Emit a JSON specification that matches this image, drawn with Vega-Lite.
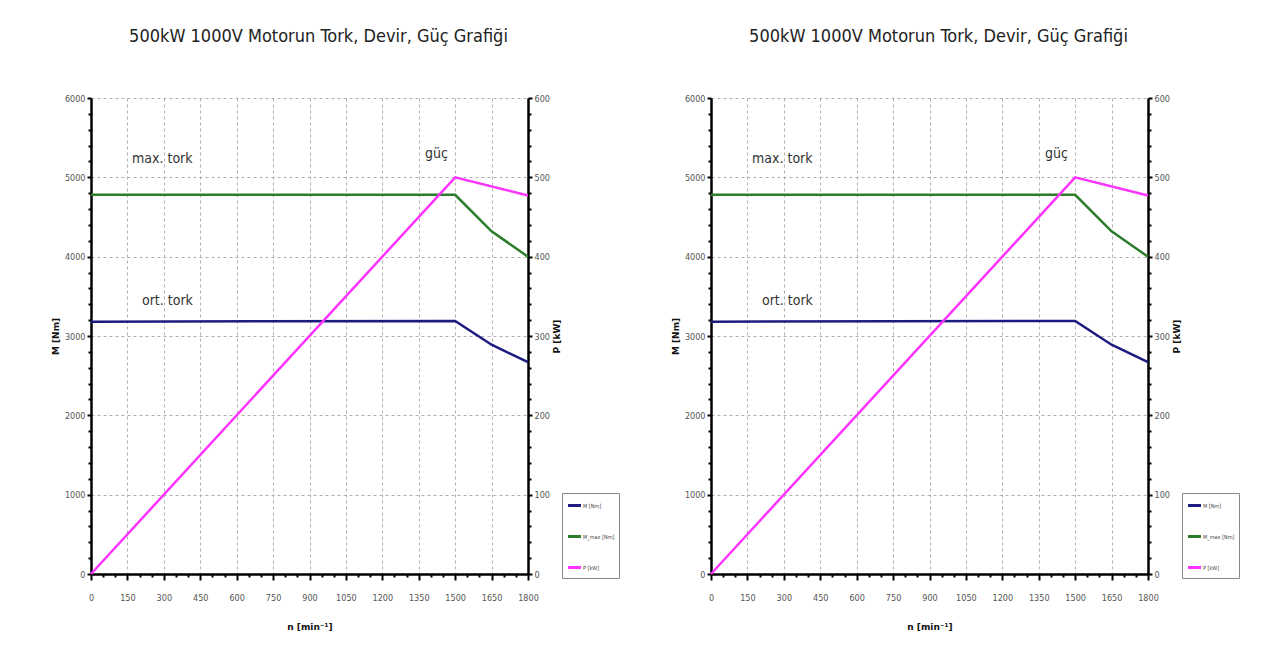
{
  "$schema": "https://vega.github.io/schema/vega-lite/v6.json",
  "background": "white",
  "padding": {"left": 51, "top": 28, "right": 5, "bottom": 5},
  "spacing": 51,
  "datasets": {
    "curves": [
      {"n": 0, "series": "M [Nm]", "value": 3180},
      {"n": 1500, "series": "M [Nm]", "value": 3190},
      {"n": 1650, "series": "M [Nm]", "value": 2890},
      {"n": 1800, "series": "M [Nm]", "value": 2670},
      {"n": 0, "series": "M_max [Nm]", "value": 4780},
      {"n": 1500, "series": "M_max [Nm]", "value": 4780},
      {"n": 1650, "series": "M_max [Nm]", "value": 4320},
      {"n": 1800, "series": "M_max [Nm]", "value": 4000},
      {"n": 0, "series": "P [kW]", "value": 0},
      {"n": 1500, "series": "P [kW]", "value": 500},
      {"n": 1800, "series": "P [kW]", "value": 477}
    ],
    "notes": [
      {"n": 169, "M": 5230, "label": "max. tork"},
      {"n": 210, "M": 3440, "label": "ort. tork"},
      {"n": 1376, "M": 5300, "label": "güç"}
    ]
  },
  "config": {
    "view": {"stroke": null},
    "font": "DejaVu Sans Condensed",
    "axis": {
      "labelFont": "DejaVu Sans Condensed",
      "labelFontSize": 9,
      "labelColor": "#555",
      "titleFont": "DejaVu Sans",
      "titleFontSize": 9,
      "titleFontWeight": "bold",
      "titleColor": "#111",
      "domainColor": "#000",
      "domainWidth": 2.5,
      "tickColor": "#000",
      "tickWidth": 2,
      "gridColor": "#b0b0b0",
      "gridDash": [3, 3],
      "gridWidth": 1
    },
    "legend": {
      "orient": "none", "legendX": 471, "legendY": 395,
      "strokeColor": "#888", "padding": 4, "symbolType": "stroke", "symbolStrokeWidth": 3, "symbolSize": 170,
      "labelFontSize": 5.5, "labelFont": "DejaVu Sans Condensed", "labelColor": "#444", "rowPadding": 16, "labelOffset": 0
    },
    "title": {"font": "DejaVu Sans Condensed", "fontSize": 18, "fontWeight": "normal", "color": "#222", "offset": 48}
  },
  "hconcat": [
    {
      "width": 437,
      "height": 476,
      "title": {"text": "500kW 1000V Motorun Tork, Devir, Güç Grafiği", "dx": 9},
      "data": {"name": "curves"},
      "encoding": {
        "x": {"field": "n", "type": "quantitative", "scale": {"domain": [0, 1800], "nice": false},
          "axis": {"title": "n [min⁻¹]", "format": "d", "values": [0,50,100,150,200,250,300,350,400,450,500,550,600,650,700,750,800,850,900,950,1000,1050,1100,1150,1200,1250,1300,1350,1400,1450,1500,1550,1600,1650,1700,1750,1800],
            "labelExpr": "datum.value % 150 === 0 ? datum.label : ''",
            "gridOpacity": {"condition": {"test": "datum.value % 150 === 0", "value": 1}, "value": 0},
            "tickSize": {"condition": {"test": "datum.value % 150 === 0", "value": 6}, "value": 3},
            "labelPadding": 13, "titlePadding": 20, "labelFlush": false, "labelOverlap": false}}
      },
      "layer": [
        {
          "transform": [{"filter": "datum.series !== 'P [kW]'"}],
          "mark": {"type": "line", "strokeWidth": 2.5},
          "encoding": {
            "y": {"field": "value", "type": "quantitative", "scale": {"domain": [0, 6000], "nice": false},
              "axis": {"title": "M [Nm]", "orient": "left", "values": [0,200,400,600,800,1000,1200,1400,1600,1800,2000,2200,2400,2600,2800,3000,3200,3400,3600,3800,4000,4200,4400,4600,4800,5000,5200,5400,5600,5800,6000],
                "labelExpr": "datum.value % 1000 === 0 ? datum.label : ''",
                "format": "d",
                "gridOpacity": {"condition": {"test": "datum.value % 1000 === 0", "value": 1}, "value": 0},
                "tickSize": {"condition": {"test": "datum.value % 1000 === 0", "value": 4}, "value": 3},
                "labelPadding": 2, "titlePadding": 4, "labelOverlap": false}},
            "color": {"field": "series", "type": "nominal",
              "scale": {"domain": ["M [Nm]", "M_max [Nm]", "P [kW]"], "range": ["#1c1c80", "#2b7d2b", "#ff33ff"]},
              "legend": {"title": null}}
          }
        },
        {
          "transform": [{"filter": "datum.series === 'P [kW]'"}],
          "mark": {"type": "line", "strokeWidth": 2.5},
          "encoding": {
            "y": {"field": "value", "type": "quantitative", "scale": {"domain": [0, 600], "nice": false},
              "axis": {"title": "P [kW]", "orient": "right", "values": [0,20,40,60,80,100,120,140,160,180,200,220,240,260,280,300,320,340,360,380,400,420,440,460,480,500,520,540,560,580,600],
                "labelExpr": "datum.value % 100 === 0 ? datum.label : ''",
                "grid": false,
                "tickSize": {"condition": {"test": "datum.value % 100 === 0", "value": 4}, "value": 3},
                "labelPadding": 2, "titlePadding": 12, "titleAngle": -90, "labelOverlap": false}},
            "color": {"field": "series", "type": "nominal"}
          }
        },
        {
          "data": {"name": "notes"},
          "mark": {"type": "text", "align": "left", "baseline": "middle", "fontSize": 14, "font": "DejaVu Sans Condensed", "color": "#333"},
          "encoding": {
            "y": {"field": "M", "type": "quantitative", "scale": {"domain": [0, 6000], "nice": false}, "axis": null},
            "text": {"field": "label"}
          }
        }
      ],
      "resolve": {"scale": {"y": "independent"}, "axis": {"y": "independent"}}
    },
    {
      "width": 437,
      "height": 476,
      "title": {"text": "500kW 1000V Motorun Tork, Devir, Güç Grafiği", "dx": 9},
      "data": {"name": "curves"},
      "encoding": {
        "x": {"field": "n", "type": "quantitative", "scale": {"domain": [0, 1800], "nice": false},
          "axis": {"title": "n [min⁻¹]", "format": "d", "values": [0,50,100,150,200,250,300,350,400,450,500,550,600,650,700,750,800,850,900,950,1000,1050,1100,1150,1200,1250,1300,1350,1400,1450,1500,1550,1600,1650,1700,1750,1800],
            "labelExpr": "datum.value % 150 === 0 ? datum.label : ''",
            "gridOpacity": {"condition": {"test": "datum.value % 150 === 0", "value": 1}, "value": 0},
            "tickSize": {"condition": {"test": "datum.value % 150 === 0", "value": 6}, "value": 3},
            "labelPadding": 13, "titlePadding": 20, "labelFlush": false, "labelOverlap": false}}
      },
      "layer": [
        {
          "transform": [{"filter": "datum.series !== 'P [kW]'"}],
          "mark": {"type": "line", "strokeWidth": 2.5},
          "encoding": {
            "y": {"field": "value", "type": "quantitative", "scale": {"domain": [0, 6000], "nice": false},
              "axis": {"title": "M [Nm]", "orient": "left", "values": [0,200,400,600,800,1000,1200,1400,1600,1800,2000,2200,2400,2600,2800,3000,3200,3400,3600,3800,4000,4200,4400,4600,4800,5000,5200,5400,5600,5800,6000],
                "labelExpr": "datum.value % 1000 === 0 ? datum.label : ''",
                "format": "d",
                "gridOpacity": {"condition": {"test": "datum.value % 1000 === 0", "value": 1}, "value": 0},
                "tickSize": {"condition": {"test": "datum.value % 1000 === 0", "value": 4}, "value": 3},
                "labelPadding": 2, "titlePadding": 4, "labelOverlap": false}},
            "color": {"field": "series", "type": "nominal",
              "scale": {"domain": ["M [Nm]", "M_max [Nm]", "P [kW]"], "range": ["#1c1c80", "#2b7d2b", "#ff33ff"]},
              "legend": {"title": null}}
          }
        },
        {
          "transform": [{"filter": "datum.series === 'P [kW]'"}],
          "mark": {"type": "line", "strokeWidth": 2.5},
          "encoding": {
            "y": {"field": "value", "type": "quantitative", "scale": {"domain": [0, 600], "nice": false},
              "axis": {"title": "P [kW]", "orient": "right", "values": [0,20,40,60,80,100,120,140,160,180,200,220,240,260,280,300,320,340,360,380,400,420,440,460,480,500,520,540,560,580,600],
                "labelExpr": "datum.value % 100 === 0 ? datum.label : ''",
                "grid": false,
                "tickSize": {"condition": {"test": "datum.value % 100 === 0", "value": 4}, "value": 3},
                "labelPadding": 2, "titlePadding": 12, "titleAngle": -90, "labelOverlap": false}},
            "color": {"field": "series", "type": "nominal"}
          }
        },
        {
          "data": {"name": "notes"},
          "mark": {"type": "text", "align": "left", "baseline": "middle", "fontSize": 14, "font": "DejaVu Sans Condensed", "color": "#333"},
          "encoding": {
            "y": {"field": "M", "type": "quantitative", "scale": {"domain": [0, 6000], "nice": false}, "axis": null},
            "text": {"field": "label"}
          }
        }
      ],
      "resolve": {"scale": {"y": "independent"}, "axis": {"y": "independent"}}
    }
  ],
  "resolve": {"scale": {"color": "independent"}, "legend": {"color": "independent"}}
}
